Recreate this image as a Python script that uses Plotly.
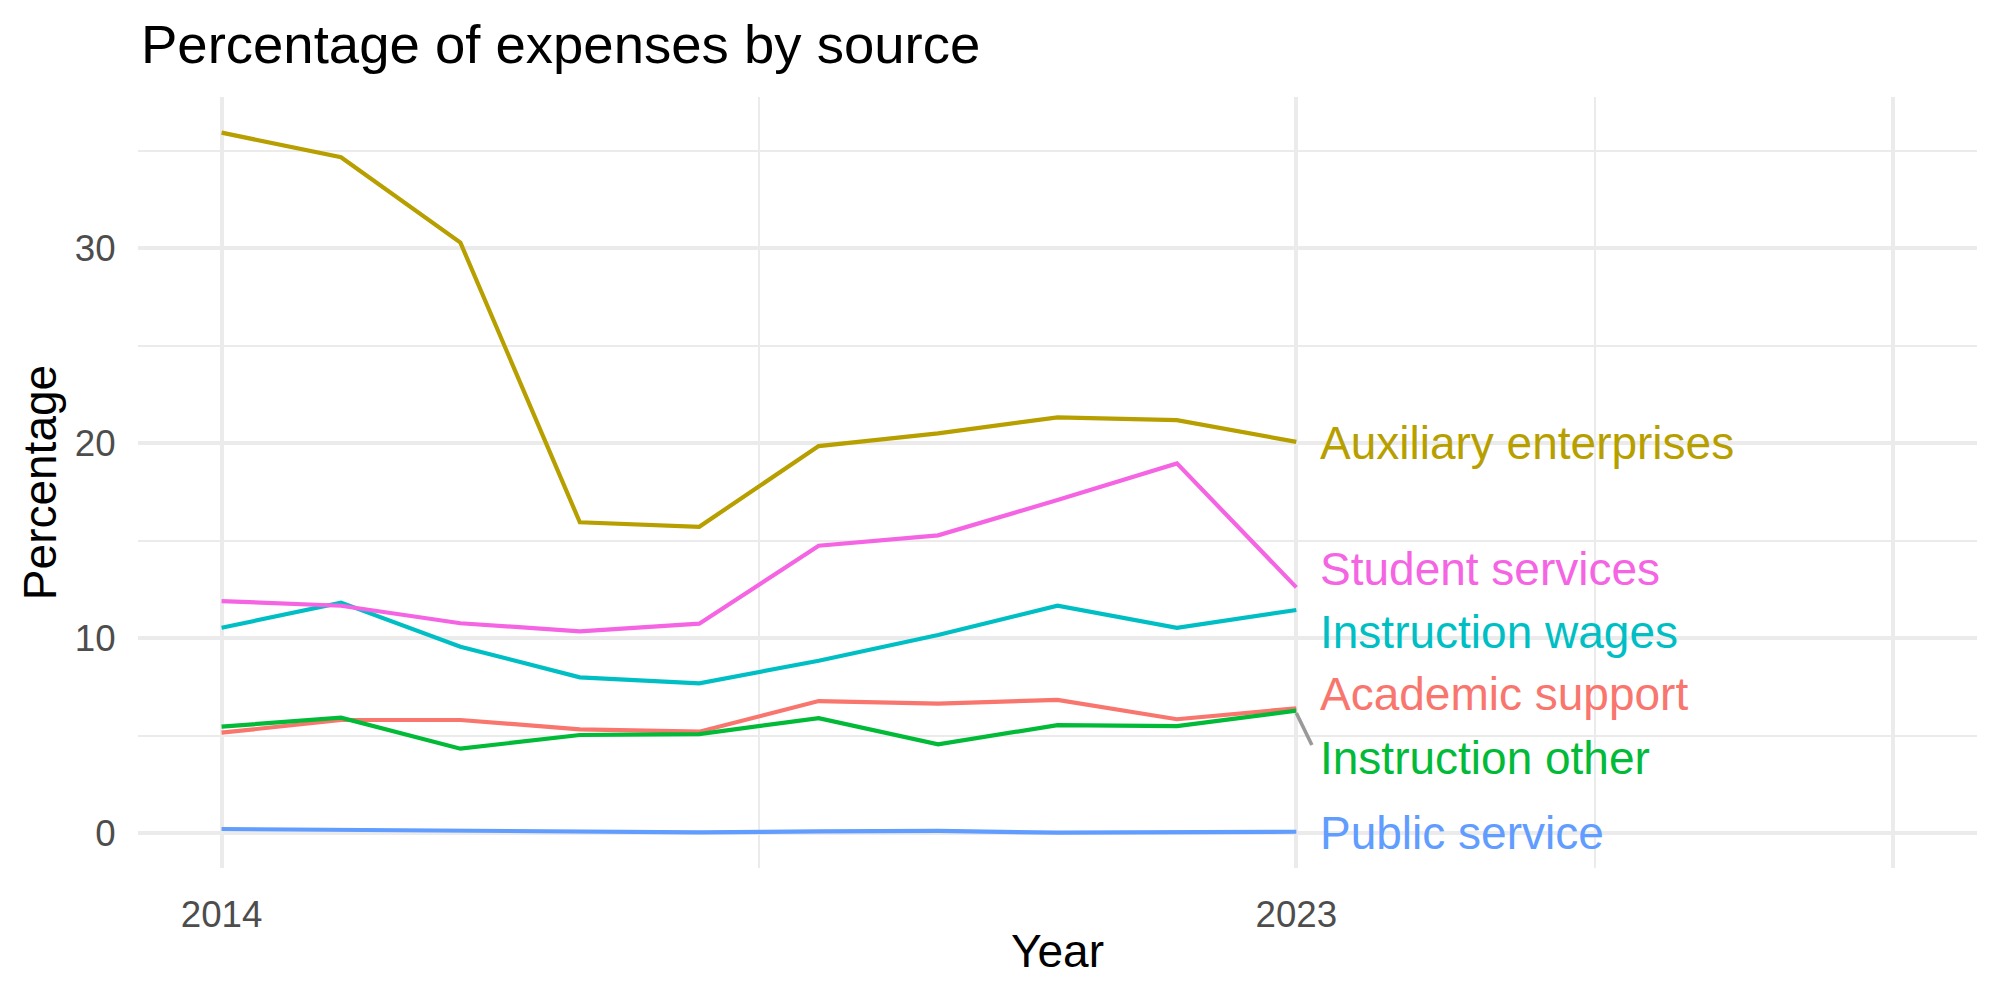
import plotly.graph_objects as go

years = [2014, 2015, 2016, 2017, 2018, 2019, 2020, 2021, 2022, 2023]

academic_support = [5.16, 5.81, 5.81, 5.33, 5.21, 6.78, 6.65, 6.84, 5.85, 6.41]
auxiliary_enterprises = [35.93, 34.67, 30.29, 15.95, 15.72, 19.86, 20.51, 21.33, 21.19, 20.07]
instruction_other = [5.47, 5.93, 4.34, 5.04, 5.09, 5.90, 4.56, 5.55, 5.50, 6.29]
instruction_wages = [10.54, 11.83, 9.57, 8.00, 7.69, 8.85, 10.17, 11.67, 10.54, 11.45]
public_service = [0.22, 0.19, 0.13, 0.13, 0.05, 0.10, 0.12, 0.03, 0.08, 0.08]
student_services = [11.91, 11.67, 10.77, 10.36, 10.75, 14.75, 15.28, 17.09, 18.97, 12.61]

series_names = ["Academic support", "Auxiliary enterprises", "Instruction other",
                "Instruction wages", "Public service", "Student services"]
series_values = [academic_support, auxiliary_enterprises, instruction_other,
                 instruction_wages, public_service, student_services]
series_colors = ["#F8766D", "#B79F00", "#00BA38", "#00BFC4", "#619CFF", "#F564E3"]

# repelled label positions (y, data units)
label_y = {"Academic support": 7.12, "Auxiliary enterprises": 20.02, "Instruction other": 3.86,
           "Instruction wages": 10.32, "Public service": 0.04, "Student services": 13.55}
label_x = 2023.19

x_tickvals = [2014, 2023, 2028]
x_ticktext = ["2014", "2023", ""]
x_minor = [2018.5, 2025.5]
y_tickvals = [0, 10, 20, 30]
y_minor = [5, 15, 25, 35]

FONT = "Liberation Sans, Arial, Helvetica, sans-serif"
GRID = "#EBEBEB"

fig = go.Figure()
for name, vals, col in zip(series_names, series_values, series_colors):
    fig.add_trace(go.Scatter(x=years, y=vals, mode="lines", name=name,
                             line=dict(color=col, width=4.2), showlegend=False))

# ggrepel-style segment for the displaced label
seg_name = "Instruction other"
seg_end_val = series_values[series_names.index(seg_name)][-1]
fig.add_trace(go.Scatter(x=[years[-1], label_x - 0.06], y=[seg_end_val - 0.12, label_y[seg_name] + 0.67],
                         mode="lines", line=dict(color="#999999", width=3.6), showlegend=False,
                         hoverinfo="skip"))

for name, col in zip(series_names, series_colors):
    fig.add_annotation(x=label_x, y=label_y[name], text=name, showarrow=False,
                       xanchor="left", yanchor="middle", borderpad=0,
                       font=dict(family=FONT, size=46, color=col))

fig.update_layout(
    width=2000, height=1000,
    margin=dict(l=138, r=23, t=97, b=132),
    paper_bgcolor="white", plot_bgcolor="white",
    font=dict(family=FONT),
    title=dict(text="Percentage of expenses by source", x=0.0705, xref="container",
               xanchor="left", y=0.956, yref="container", yanchor="middle",
               font=dict(family=FONT, size=54.5, color="black")),
    xaxis=dict(range=[2013.3, 2028.7], tickmode="array", tickvals=x_tickvals, ticktext=x_ticktext,
               showgrid=True, gridcolor=GRID, gridwidth=4, zeroline=False, showline=False,
               ticks="outside", ticklen=14, tickcolor="rgba(0,0,0,0)",
               tickfont=dict(family=FONT, size=36.7, color="#4D4D4D"),
               minor=dict(tickmode="array", tickvals=x_minor, showgrid=True, gridcolor=GRID, gridwidth=2, ticks=""),
               title=dict(text="Year", font=dict(family=FONT, size=46, color="black"), standoff=0)),
    yaxis=dict(range=[-1.78, 37.76], tickmode="array", tickvals=y_tickvals,
               showgrid=True, gridcolor=GRID, gridwidth=4, zeroline=False, showline=False,
               ticks="outside", ticklen=14, tickcolor="rgba(0,0,0,0)",
               tickfont=dict(family=FONT, size=36.7, color="#4D4D4D"),
               minor=dict(tickmode="array", tickvals=y_minor, showgrid=True, gridcolor=GRID, gridwidth=2, ticks=""),
               title=dict(text="Percentage", font=dict(family=FONT, size=46, color="black"), standoff=3)),
)

fig.write_html("out.html")
